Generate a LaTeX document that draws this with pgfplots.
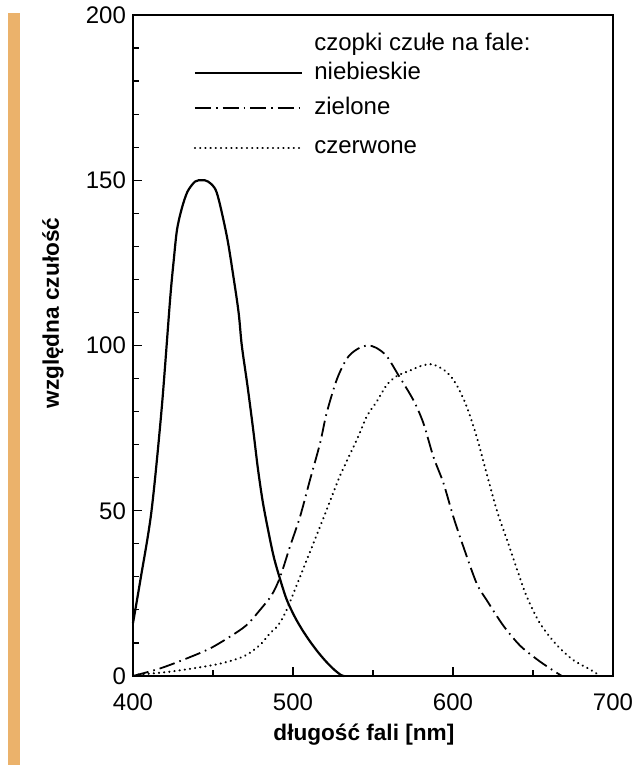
\documentclass[border=0pt]{standalone}
\usepackage{fontspec}
\setmainfont{Liberation Sans}
\usepackage{pgfplots}
\pgfplotsset{compat=1.18}
\definecolor{barorange}{RGB}{235,178,107}

% wavelength [nm] vs relative sensitivity
\pgfplotstableread{
x y
400 16
404.6 29
411.5 49.7
417.9 80.8
423.2 114
425.5 126
427.5 135
430.4 141.3
434 146.5
438.8 149.6
443 150
446.9 149.6
452.3 146.3
458.6 133.2
462.7 121
466 110
468 100
471.5 88
475 75
478 63
481 53
484.5 44
488 36
491.8 29.5
496 23.2
501 18
506 13.8
511 10.2
516 7
521 4.2
526 1.8
530 0.3
532 0
}\niebieskie
\pgfplotstableread{
x y
400 0
417 2.3
433.5 5.3
448 8.3
460.6 11.9
471 15.4
479.4 20
486.7 24.5
492 30
498 39
504.4 48.2
510.6 59.3
516.9 70.4
521 79.5
527.3 89.6
533.6 96
539.8 98.8
546.5 100
552 99.3
558.5 96.8
565.8 91.1
575.2 83.5
581.5 76.5
587.7 66.4
594 58.4
600.2 48.2
606.5 39.1
614.8 28
621 23
631.5 15.2
641.9 9.2
652.3 5.1
660.6 2.3
668 0
}\zielone
\pgfplotstableread{
x y
400 0.3
423 1.3
450 3.3
462.7 4.8
471 6.4
479.4 9.4
485.6 12.9
490.8 15.4
496 20
504.4 30
512.7 40.1
521 50.2
529.4 60.6
539.8 71.4
546.4 78.8
552.3 83
558.5 88
565 90.8
573.1 92.4
580 93.8
587.2 94.3
596 92
602.3 88
608.5 81.6
614.8 72.4
621.4 60.6
627.8 49.5
634.3 40.4
640.7 31.3
646.1 24
654.4 15.9
664.8 9.4
675.2 4.8
685.6 2
692 0
}\czerwone

\begin{document}
\begin{tikzpicture}[x=1pt,y=1pt]
\path[use as bounding box] (0,0) rectangle (319,382.5);
\fill[barorange] (4,0) rectangle (10,376);
\begin{axis}[
  at={(66.5pt,44.5pt)}, anchor=south west,
  scale only axis, width=240pt, height=330.5pt,
  xmin=400, xmax=700, ymin=0, ymax=200,
  xtick={400,500,600,700}, ytick={0,50,...,200},
  minor xtick={450,550,650}, minor ytick={10,20,...,190},
  tick pos=left, tick align=inside,
  major tick length=4.5pt, minor tick length=3pt,
  every tick/.style={black,line width=0.6pt},
  axis line style={line width=0.9pt},
  /pgf/number format/assume math mode=true,
  ticklabel style={font=\fontsize{12}{14}\selectfont},
  xticklabel style={yshift=-5.5pt},
  xlabel={długość fali [nm]},
  ylabel={względna czułość},
  label style={font=\fontsize{11.3}{13}\selectfont\bfseries},
  xlabel style={at={(axis description cs:0.481,-0.0893)},anchor=center},
  ylabel style={at={(axis description cs:-0.1667,0.549)},anchor=center},
  clip=false,
]
\addplot[black,line width=1.1pt,smooth] table[x=x,y=y] {\niebieskie};
\addplot[black,line width=0.9pt,smooth,
  dash pattern=on 8pt off 2.5pt on 0.8pt off 2.5pt] table[x=x,y=y] {\zielone};
\addplot[black,line width=1.1pt,smooth,line cap=round,
  dash pattern=on 0.1pt off 2.5pt] table[x=x,y=y] {\czerwone};

% legend
\node[anchor=base west,inner sep=0,yshift=-3pt,font=\fontsize{12}{14}\selectfont]
  at (axis description cs:0.377,0.955) {czopki czułe na fale:};
\draw[black,line width=1.1pt]
  (axis description cs:0.129,0.912) -- (axis description cs:0.352,0.912);
\node[anchor=base west,inner sep=0,yshift=-3pt,font=\fontsize{12}{14}\selectfont]
  at (axis description cs:0.377,0.912) {niebieskie};
\draw[black,line width=0.9pt,dash pattern=on 8pt off 2.5pt on 0.8pt off 2.5pt]
  (axis description cs:0.129,0.859) -- (axis description cs:0.352,0.859);
\node[anchor=base west,inner sep=0,yshift=-3pt,font=\fontsize{12}{14}\selectfont]
  at (axis description cs:0.377,0.859) {zielone};
\draw[black,line width=1.1pt,line cap=round,dash pattern=on 0.1pt off 2.5pt]
  (axis description cs:0.129,0.799) -- (axis description cs:0.352,0.799);
\node[anchor=base west,inner sep=0,yshift=-3pt,font=\fontsize{12}{14}\selectfont]
  at (axis description cs:0.377,0.799) {czerwone};
\end{axis}
\end{tikzpicture}
\end{document}
